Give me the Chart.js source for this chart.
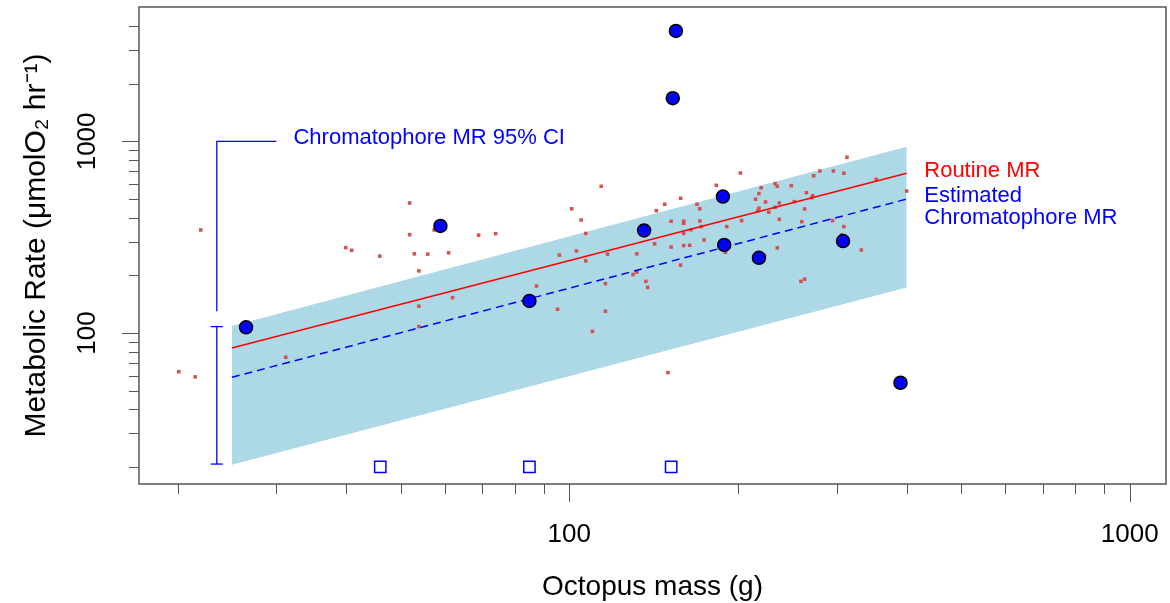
<!DOCTYPE html>
<html>
<head>
<meta charset="utf-8">
<script src="https://cdn.jsdelivr.net/npm/chart.js@4"></script>
<style>
  html, body { margin: 0; padding: 0; background: #fff; }
</style>
</head>
<body>
<canvas id="myChart" width="1170" height="603"></canvas>
<script>
const family = "'Liberation Sans', Arial, Helvetica, sans-serif";

// axis ticks
const xTickLabels = [100, 1000];
const xMinorTicks = [20, 30, 40, 50, 60, 70, 80, 90, 200, 300, 400, 500, 600, 700, 800, 900];
const yTickLabels = [100, 1000];
const yMinorTicks = [20, 30, 40, 50, 60, 70, 80, 90, 200, 300, 400, 500, 600, 700, 800, 900, 2000, 3000, 4000];

// routine metabolic rate measurements (small red squares)
const routineMass = [22.0, 51.9, 51.9, 57.4, 68.9, 73.9, 39.9, 40.9, 45.9, 52.9,
    55.9, 60.9, 53.9, 61.9, 53.9, 53.9, 31.2, 20.1, 21.5, 313,
    202, 114, 183, 353, 280, 296, 309, 273, 220, 233,
    235, 249, 400, 218, 265, 272, 271, 215, 224, 237,
    252, 158, 148, 169, 171, 101, 143, 217, 218, 227,
    233, 263, 105, 152, 160, 160, 171, 172, 165, 203,
    191, 237, 260, 295, 309, 306, 107, 160, 142, 152,
    160, 164, 174, 235, 332, 96.0, 103, 107, 117, 132,
    190, 223, 87.4, 116, 130, 132, 137, 138, 158, 259,
    263, 95.3, 116, 110, 150];
const routineRate = [345, 477, 326, 345, 324, 330, 279, 270, 252, 259,
    258, 262, 211, 153, 138, 108, 74.7, 62.8, 59.0, 826,
    684, 583, 590, 634, 701, 701, 682, 662, 573, 602,
    583, 587, 551, 534, 540, 521, 509, 499, 483, 477,
    485, 505, 470, 470, 445, 445, 435, 435, 448, 427,
    453, 444, 389, 383, 383, 374, 384, 359, 346, 386,
    359, 392, 381, 386, 359, 325, 331, 331, 292, 281,
    286, 287, 306, 278, 271, 255, 268, 238, 258, 259,
    264, 254, 176, 181, 202, 208, 186, 173, 226, 186,
    191, 133, 130, 102, 62.1];

// chromatophore metabolic rate estimates (blue circles)
const chromMass = [26.5, 58.9, 155, 153, 136, 188, 84.9, 189, 218, 308, 390];
const chromRate = [107, 362, 3770, 1680, 343, 515, 147, 288, 247, 302, 55.0];

// estimates below the axis floor (open squares)
const belowMass = [46.0, 84.9, 152];
const belowRate = [20, 20, 20];

// fitted lines and 95% CI band
const fitMass = [25, 400];
const routineFit = [83.5, 682];
const chromFit = [58.7, 500];
const ciUpper = [108.8, 938];
const ciLower = [20.5, 173];

// CI key on the left
const ciBarMass = [23.5, 23.5];
const ciBarRate = [108, 20.7];
const ciBracketMass = [30, 23.5, 23.5];
const ciBracketRate = [1000, 1000, 130];

const notes = [
    { text: 'Chromatophore MR 95% CI', mass: 32.2, rate: 1040, color: '#0000ff' },
    { text: 'Routine MR', mass: 430, rate: 701, color: '#ff0000' },
    { text: 'Estimated', mass: 430, rate: 519, color: '#0000ff' },
    { text: 'Chromatophore MR', mass: 430, rate: 398, color: '#0000ff' }
];

function pts(xs, ys) {
    return xs.map((x, i) => ({ x: x, y: ys[i] }));
}

const axisDecor = {
    id: 'axisDecor',
    afterDatasetsDraw(chart) {
        const { ctx, chartArea: a, scales: { x, y } } = chart;
        ctx.save();
        ctx.strokeStyle = '#555';
        ctx.lineWidth = 1;
        ctx.beginPath();
        xMinorTicks.forEach(v => {
            const px = Math.round(x.getPixelForValue(v)) + 0.5;
            ctx.moveTo(px, a.bottom); ctx.lineTo(px, a.bottom + 10);
        });
        xTickLabels.forEach(v => {
            const px = Math.round(x.getPixelForValue(v)) + 0.5;
            ctx.moveTo(px, a.bottom); ctx.lineTo(px, a.bottom + 18);
        });
        yMinorTicks.forEach(v => {
            const py = Math.round(y.getPixelForValue(v)) + 0.5;
            ctx.moveTo(a.left, py); ctx.lineTo(a.left - 10, py);
        });
        yTickLabels.forEach(v => {
            const py = Math.round(y.getPixelForValue(v)) + 0.5;
            ctx.moveTo(a.left, py); ctx.lineTo(a.left - 17, py);
        });
        ctx.stroke();

        ctx.lineWidth = 1.5;
        ctx.strokeRect(a.left, a.top, a.right - a.left, a.bottom - a.top);

        ctx.font = '22px ' + family;
        ctx.textAlign = 'left';
        ctx.textBaseline = 'middle';
        notes.forEach(n => {
            ctx.fillStyle = n.color;
            ctx.fillText(n.text, x.getPixelForValue(n.mass), y.getPixelForValue(n.rate));
        });
        ctx.restore();
    }
};

const data = {
    datasets: [{
        type: 'line',
        data: pts(fitMass, ciUpper),
        borderWidth: 0,
        pointRadius: 0,
        fill: 1,
        backgroundColor: '#add8e6',
        order: 10
    }, {
        type: 'line',
        data: pts(fitMass, ciLower),
        borderWidth: 0,
        pointRadius: 0,
        fill: false,
        order: 10
    }, {
        type: 'scatter',
        data: pts(routineMass, routineRate),
        pointStyle: 'rect',
        pointRadius: 2.5,
        borderWidth: 0,
        backgroundColor: '#d64f4f',
        order: 8
    }, {
        type: 'line',
        data: pts(fitMass, routineFit),
        borderColor: '#ff0000',
        borderWidth: 1.5,
        pointRadius: 0,
        fill: false,
        order: 6
    }, {
        type: 'line',
        data: pts(fitMass, chromFit),
        borderColor: '#0000ff',
        borderWidth: 1.5,
        borderDash: [8, 5],
        pointRadius: 0,
        fill: false,
        order: 6
    }, {
        type: 'line',
        data: pts(ciBracketMass, ciBracketRate),
        borderColor: '#0000ff',
        borderWidth: 1.3,
        pointRadius: 0,
        fill: false,
        order: 5
    }, {
        type: 'line',
        data: pts(ciBarMass, ciBarRate),
        borderColor: '#0000ff',
        borderWidth: 1.3,
        pointStyle: 'line',
        pointRadius: 6,
        pointBorderColor: '#0000ff',
        pointBorderWidth: 1.3,
        fill: false,
        order: 5
    }, {
        type: 'scatter',
        data: pts(belowMass, belowRate),
        pointStyle: 'rect',
        pointRadius: 8,
        borderColor: '#0000ff',
        borderWidth: 1.5,
        backgroundColor: 'rgba(255,255,255,0)',
        order: 4
    }, {
        type: 'scatter',
        data: pts(chromMass, chromRate),
        pointStyle: 'circle',
        pointRadius: 6.5,
        borderColor: '#000',
        borderWidth: 1.5,
        backgroundColor: '#0000ff',
        order: 1
    }]
};

const config = {
    type: 'scatter',
    data: data,
    plugins: [axisDecor],
    options: {
        responsive: false,
        animation: false,
        devicePixelRatio: 1,
        layout: {
            autoPadding: false,
            padding: { top: 7, right: 4, bottom: 0, left: 0 }
        },
        plugins: {
            legend: { display: false },
            tooltip: { enabled: false }
        },
        scales: {
            x: {
                type: 'logarithmic',
                min: 17.07,
                max: 1161,
                afterBuildTicks: s => { s.ticks = xTickLabels.map(v => ({ value: v })); },
                afterFit: s => { s.height = 119; s.paddingLeft = 0; s.paddingRight = 0; },
                grid: { display: false, drawTicks: false },
                border: { display: false },
                ticks: {
                    autoSkip: false,
                    minRotation: 0,
                    maxRotation: 0,
                    padding: 35,
                    color: '#000',
                    font: { family: family, size: 26 },
                    callback: v => String(v)
                },
                title: {
                    display: true,
                    text: 'Octopus mass (g)',
                    color: '#000',
                    font: { family: family, size: 28, lineHeight: 1.1 },
                    padding: { top: 0, bottom: 0 }
                }
            },
            y: {
                type: 'logarithmic',
                min: 16.29,
                max: 5029,
                afterBuildTicks: s => { s.ticks = yTickLabels.map(v => ({ value: v })); },
                afterFit: s => { s.width = 139; s.paddingTop = 0; s.paddingBottom = 0; },
                grid: { display: false, drawTicks: false },
                border: { display: false },
                ticks: {
                    autoSkip: false,
                    minRotation: 90,
                    maxRotation: 90,
                    crossAlign: 'center',
                    padding: 22,
                    color: '#000',
                    font: { family: family, size: 26 },
                    callback: v => String(v)
                },
                title: {
                    display: true,
                    text: 'Metabolic Rate (μmolO₂ hr⁻¹)',
                    color: '#000',
                    font: { family: family, size: 30, lineHeight: 1.1 },
                    padding: { top: 20, bottom: 0 }
                }
            }
        }
    }
};

const myChart = new Chart('myChart', config);
</script>
</body>
</html>
